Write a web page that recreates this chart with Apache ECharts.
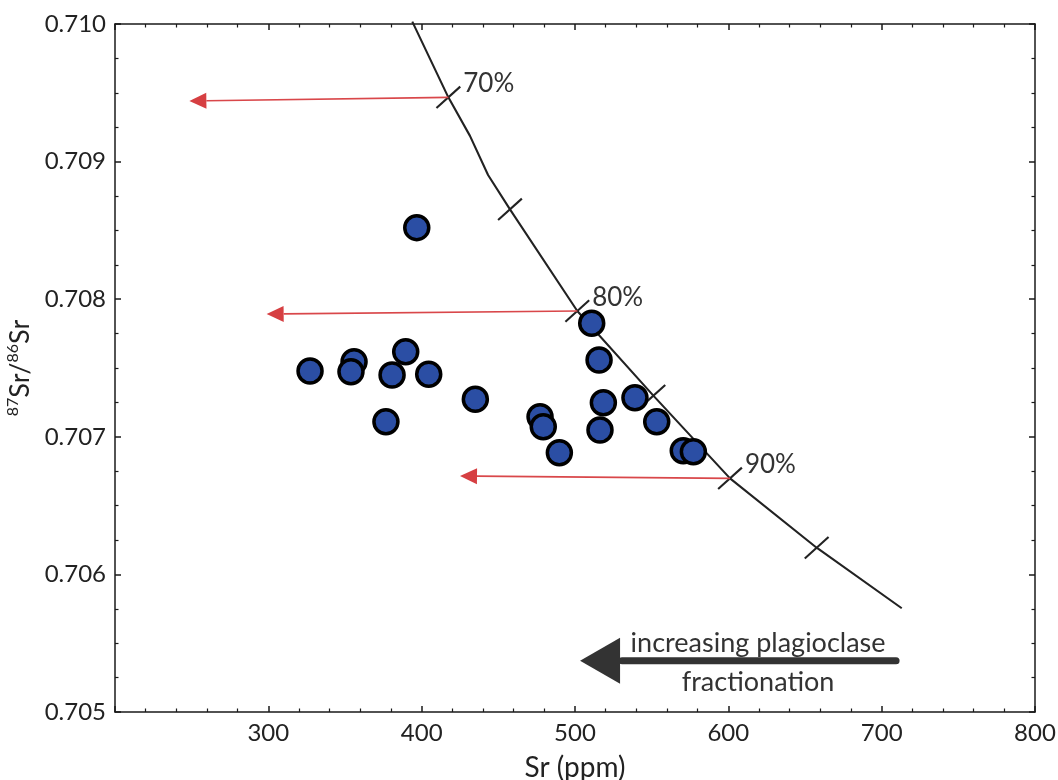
<!DOCTYPE html>
<html>
<head>
<meta charset="utf-8">
<script src="https://cdn.jsdelivr.net/npm/echarts@6/dist/echarts.min.js"></script>
<style>
  html, body { margin: 0; padding: 0; background: #fff; }
  #chart { width: 1058px; height: 780px; }
</style>
</head>
<body>
<div id="chart"></div>
<script>
// Sample measurements: Sr concentration (ppm) and 87Sr/86Sr
const srPpm = [327.2, 355.9, 353.9, 389.6, 380.7, 404.6, 376.7, 435.0, 477.2, 479.3,
               489.8, 518.5, 516.3, 539.1, 553.3, 570.6, 577.2, 510.9, 515.7, 396.8];
const srRatio = [0.707478, 0.707546, 0.707473, 0.707618, 0.707449, 0.707454, 0.707110, 0.707273, 0.707146, 0.707073,
                 0.706884, 0.707248, 0.707049, 0.707284, 0.707110, 0.706899, 0.706892, 0.707825, 0.707558, 0.708520];

// Plagioclase fractionation model curve
const modelSr = [393.9, 417.4, 431.5, 443.3, 457.6, 501.5, 551.1, 601.1, 657.6, 713.1];
const modelRatio = [0.710017, 0.709467, 0.709187, 0.708903, 0.708653, 0.707914, 0.707299, 0.706698, 0.706194, 0.705754];

// Fraction-crystallised marks along the model curve
const markSr = [417.4, 457.6, 501.5, 551.1, 601.1, 657.6];
const markRatio = [0.709467, 0.708653, 0.707914, 0.707299, 0.706698, 0.706194];
const markLabels = ['70%', '', '80%', '', '90%', ''];

// Red arrows: start on the curve, point to lower Sr
const arrowFromSr = [417.4, 501.5, 601.1];
const arrowFromRatio = [0.709467, 0.707914, 0.706698];
const arrowToSr = [248.5, 298.9, 425.0];
const arrowToRatio = [0.709440, 0.707892, 0.706715];

// Trend arrow with caption
const trendFrom = [709.4, 0.705373];
const trendTo = [503.3, 0.705373];
const trendCaption = ['increasing plagioclase', 'fractionation'];

const FONT = 'Lato, "Open Sans", sans-serif';

const chart = echarts.init(document.getElementById('chart'), null, { renderer: 'canvas' });

function arrowShape(p0, p1, headLen, headHalf) {
  const dx = p1[0] - p0[0], dy = p1[1] - p0[1];
  const len = Math.sqrt(dx * dx + dy * dy) || 1;
  const ux = dx / len, uy = dy / len;
  const bx = p1[0] - ux * headLen, by = p1[1] - uy * headLen;
  return {
    base: [bx, by],
    head: [[p1[0], p1[1]], [bx - uy * headHalf, by + ux * headHalf], [bx + uy * headHalf, by - ux * headHalf]]
  };
}

const axisLine = { show: true, onZero: false, lineStyle: { color: '#1a1a1a', width: 1.5 } };
const axisTick = { show: true, inside: true, length: 6, lineStyle: { color: '#1a1a1a', width: 1.5 } };
const minorX = { show: true, splitNumber: 5, length: 3.5, lineStyle: { color: '#1a1a1a', width: 1.2 } };
const minorY = { show: true, splitNumber: 4, length: 3.5, lineStyle: { color: '#1a1a1a', width: 1.2 } };
const labelStyle = { fontSize: 24, fontFamily: FONT, color: '#222' };

const TICK_ANGLE = 42 * Math.PI / 180;
const TICK_HALF = 16;

const option = {
  animation: false,
  backgroundColor: '#fff',
  grid: { left: 115, right: 23, top: 24, bottom: 68, containLabel: false, outerBoundsMode: 'none' },
  xAxis: [
    {
      type: 'value', min: 200, max: 800, interval: 100, position: 'bottom',
      axisLine, axisTick, minorTick: minorX,
      splitLine: { show: false },
      axisLabel: Object.assign({ margin: 9, showMinLabel: false }, labelStyle),
      name: 'Sr (ppm)', nameLocation: 'middle', nameGap: 42,
      nameTextStyle: { fontSize: 28, fontFamily: FONT, color: '#222' }
    },
    {
      type: 'value', min: 200, max: 800, interval: 100, position: 'top',
      axisLine, axisTick, minorTick: minorX,
      splitLine: { show: false }, axisLabel: { show: false }
    }
  ],
  yAxis: [
    {
      type: 'value', min: 0.705, max: 0.710, interval: 0.001, position: 'left',
      axisLine, axisTick, minorTick: minorY,
      splitLine: { show: false },
      axisLabel: Object.assign({ margin: 9, formatter: v => v.toFixed(3) }, labelStyle),
      name: '{sup|87}{base|Sr/}{sup|86}{base|Sr}', nameLocation: 'middle', nameGap: 80,
      nameTextStyle: {
        color: '#222', fontFamily: FONT,
        rich: {
          base: { fontSize: 27, fontFamily: FONT, color: '#222', lineHeight: 30 },
          sup: { fontSize: 16, fontFamily: FONT, color: '#222', verticalAlign: 'top', lineHeight: 16 }
        }
      }
    },
    {
      type: 'value', min: 0.705, max: 0.710, interval: 0.001, position: 'right',
      axisLine, axisTick, minorTick: minorY,
      splitLine: { show: false }, axisLabel: { show: false }
    }
  ],
  series: [
    {
      // model curve
      type: 'line', z: 2, clip: false, silent: true,
      data: modelSr.map((x, i) => [x, modelRatio[i]]),
      showSymbol: false, symbol: 'none',
      lineStyle: { color: '#222', width: 2.1 }
    },
    {
      // percentage marks across the curve
      type: 'custom', z: 3, silent: true,
      data: markSr.map((x, i) => [x, markRatio[i]]),
      renderItem(params, api) {
        const p = api.coord([api.value(0), api.value(1)]);
        const dx = Math.cos(TICK_ANGLE) * TICK_HALF;
        const dy = Math.sin(TICK_ANGLE) * TICK_HALF;
        const children = [{
          type: 'line',
          shape: { x1: p[0] - dx, y1: p[1] + dy, x2: p[0] + dx, y2: p[1] - dy },
          style: { stroke: '#222', lineWidth: 2.1 }
        }];
        const txt = markLabels[params.dataIndex];
        if (txt) {
          children.push({
            type: 'text', x: p[0] + dx + 3, y: p[1] - dy - 3,
            style: { text: txt, fill: '#333', fontSize: 26, fontFamily: FONT, align: 'left', verticalAlign: 'middle' }
          });
        }
        return { type: 'group', children };
      }
    },
    {
      // red arrows
      type: 'custom', z: 3, silent: true,
      data: arrowFromSr.map((x, i) => [x, arrowFromRatio[i], arrowToSr[i], arrowToRatio[i]]),
      renderItem(params, api) {
        const p0 = api.coord([api.value(0), api.value(1)]);
        const p1 = api.coord([api.value(2), api.value(3)]);
        const a = arrowShape(p0, p1, 17, 8);
        return {
          type: 'group',
          children: [
            { type: 'line', shape: { x1: p0[0], y1: p0[1], x2: a.base[0], y2: a.base[1] },
              style: { stroke: '#d9474a', lineWidth: 1.6 } },
            { type: 'polygon', shape: { points: a.head }, style: { fill: '#d63f42' } }
          ]
        };
      }
    },
    {
      // trend arrow and caption
      type: 'custom', z: 3, silent: true,
      data: [[trendFrom[0], trendFrom[1], trendTo[0], trendTo[1]]],
      renderItem(params, api) {
        const p0 = api.coord([api.value(0), api.value(1)]);
        const p1 = api.coord([api.value(2), api.value(3)]);
        const a = arrowShape(p0, p1, 40, 23);
        const cx = (p0[0] + a.base[0]) / 2;
        return {
          type: 'group',
          children: [
            { type: 'line', shape: { x1: p0[0], y1: p0[1], x2: a.base[0] + 2, y2: a.base[1] },
              style: { stroke: '#333', lineWidth: 7, lineCap: 'round' } },
            { type: 'polygon', shape: { points: a.head }, style: { fill: '#333' } },
            { type: 'text', x: cx, y: p0[1] - 17,
              style: { text: trendCaption[0], fill: '#333', fontSize: 27, fontFamily: FONT, align: 'center', verticalAlign: 'middle' } },
            { type: 'text', x: cx, y: p0[1] + 22,
              style: { text: trendCaption[1], fill: '#333', fontSize: 27, fontFamily: FONT, align: 'center', verticalAlign: 'middle' } }
          ]
        };
      }
    },
    {
      // samples
      type: 'scatter', z: 5, silent: true,
      data: srPpm.map((x, i) => [x, srRatio[i]]),
      symbol: 'circle', symbolSize: 24,
      itemStyle: { color: '#2b4ea4', borderColor: '#000', borderWidth: 3.5, opacity: 1 }
    }
  ]
};

chart.setOption(option);
</script>
</body>
</html>
